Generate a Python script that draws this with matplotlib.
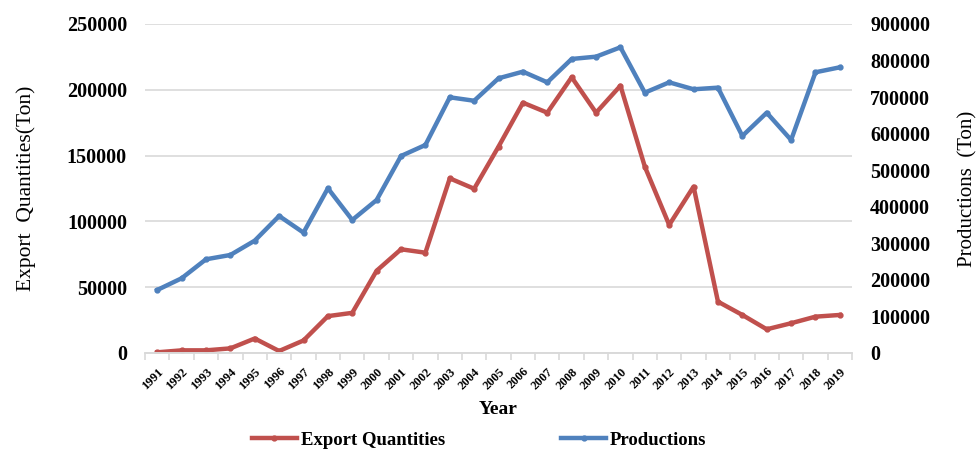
import matplotlib
matplotlib.use('Agg')
import matplotlib.pyplot as plt
from matplotlib.ticker import MultipleLocator, FixedLocator, NullFormatter

years = [str(y) for y in range(1991, 2020)]
export_qty = [500, 2000, 2000, 3500, 11000, 1500, 9500, 28000, 30500, 62500,
              78800, 76200, 132700, 124800, 156800, 190200, 182600, 209500, 182600, 203100,
              141600, 97300, 126400, 39000, 28900, 18000, 22600, 27600, 28900]
productions = [172300, 204300, 256300, 268100, 307300, 374800, 329200, 450500, 363800, 418500,
               538900, 569000, 699400, 690000, 751400, 769600, 740400, 804300, 810600, 836200,
               712100, 740400, 721400, 725800, 593600, 657300, 582700, 767900, 781500]

red = '#C0504D'
blue = '#4F81BD'
serif = ['Liberation Serif', 'DejaVu Serif']

fig = plt.figure(figsize=(9.76, 4.5), dpi=100)
ax = fig.add_axes([0.1486, 0.2156, 0.7244, 0.7311])
ax2 = ax.twinx()

x = list(range(len(years)))
l1, = ax.plot(x, export_qty, color=red, lw=3.2, marker='o', ms=3.5, label='Export Quantities')
l2, = ax2.plot(x, productions, color=blue, lw=3.2, marker='o', ms=3.5, label='Productions')

ax.set_xlim(-0.5, len(years) - 0.5)
ax.set_ylim(0, 250000)
ax2.set_ylim(0, 900000)
ax.yaxis.set_major_locator(MultipleLocator(50000))
ax2.yaxis.set_major_locator(MultipleLocator(100000))
ax.ticklabel_format(axis='y', style='plain')
ax2.ticklabel_format(axis='y', style='plain')

ax.grid(axis='y', color='#D9D9D9', lw=1.2)
ax.set_axisbelow(True)
for a in (ax, ax2):
    for s in ('left', 'right', 'top'):
        a.spines[s].set_visible(False)
    a.spines['bottom'].set_color('#D9D9D9')
    a.spines['bottom'].set_linewidth(1.2)

# ticks between categories, labels at centres
ax.xaxis.set_major_locator(FixedLocator([i - 0.5 for i in range(len(years) + 1)]))
ax.xaxis.set_major_formatter(NullFormatter())
ax.xaxis.set_minor_locator(FixedLocator(x))
ax.set_xticklabels(years, minor=True, rotation=45, ha='right', rotation_mode='anchor',
                   fontsize=9, fontweight='bold', family=serif)
ax.tick_params(axis='x', which='major', length=5, color='#D9D9D9', width=1.2)
ax.tick_params(axis='x', which='minor', length=0, pad=9)
ax.tick_params(axis='y', length=0, pad=13)
ax2.tick_params(axis='y', length=0, pad=13)
for lab in ax.get_yticklabels() + ax2.get_yticklabels():
    lab.set_fontsize(14.5)
    lab.set_fontweight('bold')
    lab.set_family(serif)

ax.set_ylabel('Export  Quantities(Ton)', fontsize=15.5, family=serif, labelpad=22)
ax2.set_ylabel('Productions  (Ton)', fontsize=15, family=serif, labelpad=20)
ax.set_xlabel('Year', fontsize=14, fontweight='bold', family=serif, labelpad=7)

fig.legend([l1, l2], ['Export Quantities', 'Productions'], loc='lower center',
           bbox_to_anchor=(0.491, -0.035), ncol=2, frameon=False, handlelength=2.4,
           handletextpad=0.2, columnspacing=6.2,
           prop={'family': serif, 'weight': 'bold', 'size': 13.5})

fig.savefig('out.png', dpi=100)
